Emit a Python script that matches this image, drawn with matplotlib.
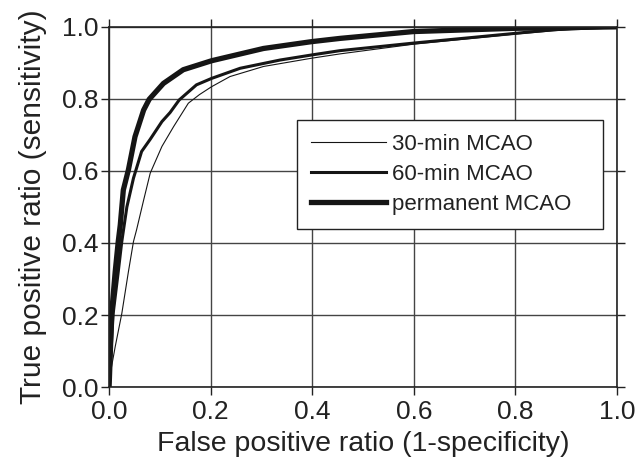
import numpy as np
import matplotlib.pyplot as plt

plt.rcParams['font.family'] = ['Liberation Sans', 'DejaVu Sans']

# 30-min MCAO (mong nhat)
fpr_30 = [0.0, 0.004, 0.012, 0.025, 0.038, 0.048, 0.054, 0.068, 0.081, 0.104, 0.127,
          0.156, 0.178, 0.202, 0.238, 0.304, 0.399, 0.455, 0.6, 0.8, 0.9, 1.0]
tpr_30 = [0.0, 0.05, 0.112, 0.204, 0.32, 0.404, 0.436, 0.519, 0.594, 0.668, 0.723,
          0.788, 0.812, 0.834, 0.862, 0.890, 0.913, 0.925, 0.952, 0.980, 0.992, 1.0]

# 60-min MCAO
fpr_60 = [0.0, 0.003, 0.008, 0.018, 0.025, 0.035, 0.048, 0.064, 0.081, 0.104, 0.120,
          0.138, 0.172, 0.202, 0.258, 0.337, 0.399, 0.455, 0.6, 0.8, 0.874, 1.0]
tpr_60 = [0.0, 0.08, 0.204, 0.32, 0.404, 0.5, 0.58, 0.654, 0.688, 0.737, 0.762,
          0.797, 0.839, 0.857, 0.885, 0.908, 0.922, 0.934, 0.955, 0.982, 0.992, 1.0]

# permanent MCAO (day nhat)
fpr_pm = [0.0, 0.002, 0.005, 0.012, 0.018, 0.022, 0.028, 0.038, 0.051, 0.068, 0.079,
          0.107, 0.146, 0.202, 0.304, 0.399, 0.455, 0.6, 0.8, 1.0]
tpr_pm = [0.0, 0.08, 0.204, 0.32, 0.404, 0.45, 0.547, 0.603, 0.695, 0.769, 0.799,
          0.843, 0.881, 0.906, 0.940, 0.959, 0.968, 0.987, 0.996, 1.0]

ticks = [0.0, 0.2, 0.4, 0.6, 0.8, 1.0]
tick_labels = ['0.0', '0.2', '0.4', '0.6', '0.8', '1.0']

fig = plt.figure(figsize=(6.38, 4.63), dpi=100)
ax = fig.add_axes([0.171, 0.164, 0.796, 0.778])

mau = '#151515'
ax.plot(fpr_30, tpr_30, color=mau, linewidth=0.8, label='30-min MCAO')
ax.plot(fpr_60, tpr_60, color=mau, linewidth=2.2, label='60-min MCAO')
ax.plot(fpr_pm, tpr_pm, color=mau, linewidth=3.8, label='permanent MCAO')

ax.set_xlim(0, 1)
ax.set_ylim(0, 1)
ax.set_xticks(ticks)
ax.set_yticks(ticks)
ax.set_xticklabels(tick_labels, fontsize=19)
ax.set_yticklabels(tick_labels, fontsize=19)
ax.tick_params(axis='both', direction='out', length=6, width=1,
               colors='#222222', top=True, right=True, pad=1.5)
ax.tick_params(axis='x', pad=3.5)
ax.grid(True, color='#444444', linewidth=1)
for s in ax.spines.values():
    s.set_color('#222222')
    s.set_linewidth(1.2)

ax.set_xlabel('False positive ratio (1-specificity)', fontsize=20.5, color='#222222', labelpad=4.5)
ax.set_ylabel('True positive ratio (sensitivity)', fontsize=21.5, color='#222222', labelpad=11)

leg = ax.legend(loc='upper left', bbox_to_anchor=(0.370, 0.742 - 0.305, 0.602, 0.305),
                mode='expand', fontsize=16,
                frameon=True, fancybox=False, framealpha=1, edgecolor='#222222',
                handlelength=3.4, handletextpad=0.25, borderpad=0.62, labelspacing=0.42,
                borderaxespad=0)
leg.get_frame().set_linewidth(1)
for t in leg.get_texts():
    t.set_color('#222222')

plt.savefig('out.png', dpi=100)
